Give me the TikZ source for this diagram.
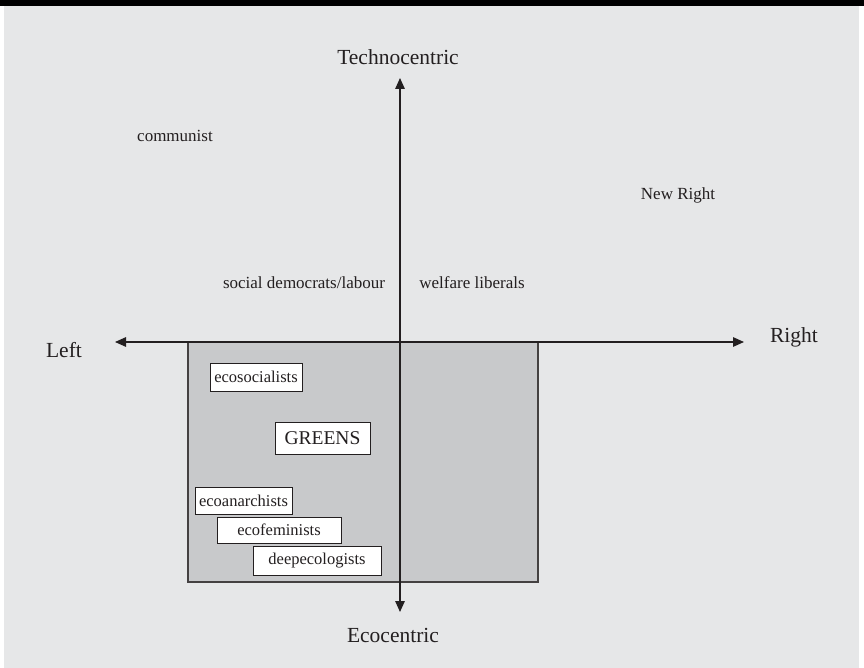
\documentclass[tikz,border=0pt]{standalone}
\usepackage{fontspec}
\setmainfont{Liberation Serif}
\usetikzlibrary{arrows.meta}
\definecolor{bgc}{RGB}{230,231,232}
\definecolor{zonec}{RGB}{200,201,203}
\definecolor{inkc}{RGB}{35,31,32}
\tikzset{
  big/.style={font=\fontsize{21.5}{24}\selectfont, text=inkc, anchor=base, inner sep=0pt},
  small/.style={font=\fontsize{17}{19}\selectfont, text=inkc, anchor=base, inner sep=0pt},
  tag/.style={draw=inkc, line width=1pt, fill=white, font=\fontsize{16.5}{19}\selectfont, text=inkc, inner sep=0pt, anchor=center},
  axis/.style={draw=inkc, line width=1.4pt, {Triangle[length=11pt,width=9.5pt]}-{Triangle[length=11pt,width=9.5pt]}},
}
\begin{document}
\begin{tikzpicture}[x=1pt,y=-1pt]
\useasboundingbox (0,0) rectangle (864,668);
\fill[white] (0,0) rectangle (864,668);
\fill[bgc] (4,6) rectangle (859,668);
\fill[black] (0,0) rectangle (864,6);
% ecocentric zone
\draw[fill=zonec, draw=inkc!85, line width=1.3pt] (188,342) rectangle (538,582);
% axes
\coordinate (top) at (400,78);
\coordinate (bottom) at (400,612);
\coordinate (leftend) at (115,342);
\coordinate (rightend) at (744,342);
\draw[axis] (top) -- (bottom);
\draw[axis] (leftend) -- (rightend);
% axis labels
\node[big] (tech) at (398,65) {Technocentric};
\node[big] (eco) at (393,642) {Ecocentric};
\node[big] (left) at (64,357) {Left};
\node[big] (right) at (794,342) {Right};
% ideologies
\node[small] (communist) at (175,142) {communist};
\node[small] (newright) at (678,200) {New Right};
\node[small] (socdem) at (304,288) {social democrats/labour};
\node[small] (welfare) at (472,288) {welfare liberals};
% boxes
\node[tag, minimum width=92pt, minimum height=28pt] (ecosoc) at (256,377) {ecosocialists};
\node[tag, minimum width=95pt, minimum height=32pt, font=\fontsize{19.5}{22}\selectfont] (greens) at (322.5,438) {GREENS};
\node[tag, minimum width=97pt, minimum height=27pt] (ecoan) at (243.5,500.5) {ecoanarchists};
\node[tag, minimum width=124pt, minimum height=26pt] (ecofem) at (279,530) {ecofeminists};
\node[tag, minimum width=128pt, minimum height=29pt] (deep) at (317,560.5) {deepecologists};
\end{tikzpicture}
\end{document}
